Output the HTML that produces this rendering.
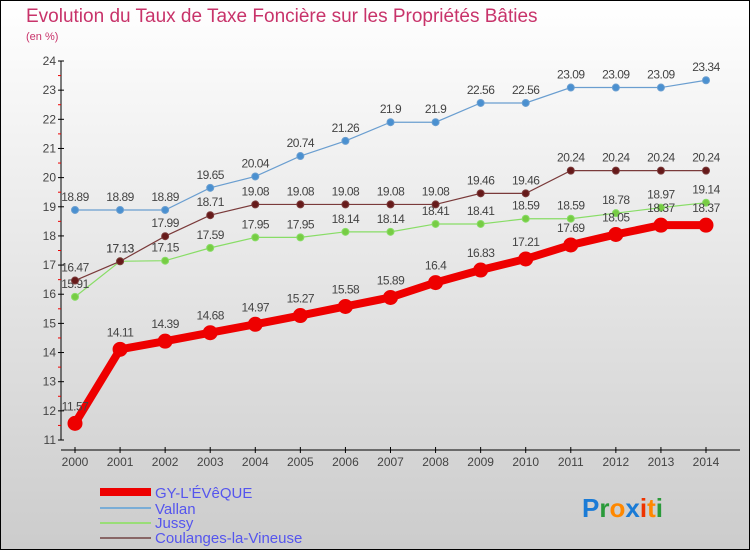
<!DOCTYPE html>
<html><head><meta charset="utf-8"><style>
body{margin:0;width:750px;height:550px;overflow:hidden;font-family:"Liberation Sans",sans-serif;}
</style></head><body>
<svg id="chart" width="750" height="550" xmlns="http://www.w3.org/2000/svg" font-family="Liberation Sans, sans-serif">
<defs><linearGradient id="bg" x1="0" y1="0" x2="0" y2="1"><stop offset="0" stop-color="#ffffff"/><stop offset="1" stop-color="#cccccc"/></linearGradient></defs>
<rect x="0.5" y="0.5" width="749" height="549" fill="url(#bg)" stroke="#000"/>
<text x="26" y="22" font-size="19" fill="#c8336a">Evolution du Taux de Taxe Foncière sur les Propriétés Bâties</text>
<text x="26" y="40" font-size="11" fill="#c8336a">(en %)</text>
<g id="axes"></g><g id="series"></g>
<g font-size="15" fill="#5555ee">
<line x1="100" y1="492" x2="151" y2="492" stroke="#ee0000" stroke-width="8"/><text x="155" y="498" fill="#5555ee">GY-L'ÉVêQUE</text>
<line x1="100" y1="508" x2="151" y2="508" stroke="#7aadd6" stroke-width="2"/><text x="155" y="514" fill="#5555ee">Vallan</text>
<line x1="100" y1="523" x2="151" y2="523" stroke="#99dd77" stroke-width="2"/><text x="155" y="528" fill="#5555ee">Jussy</text>
<line x1="100" y1="538" x2="151" y2="538" stroke="#886666" stroke-width="2"/><text x="155" y="543" fill="#5555ee">Coulanges-la-Vineuse</text>
</g>
<text x="582" y="517" font-size="26" font-weight="bold"><tspan fill="#1a7bd6">P</tspan><tspan fill="#2a9a3a">r</tspan><tspan fill="#ff8800">o</tspan><tspan fill="#1a7bd6">x</tspan><tspan fill="#ee3300">i</tspan><tspan fill="#ff8800">t</tspan><tspan fill="#2a9a3a">i</tspan></text>
</svg>
<script>
const years=[2000,2001,2002,2003,2004,2005,2006,2007,2008,2009,2010,2011,2012,2013,2014];
const gy=[11.57,14.11,14.39,14.68,14.97,15.27,15.58,15.89,16.4,16.83,17.21,17.69,18.05,18.37,18.37];
const vallan=[18.89,18.89,18.89,19.65,20.04,20.74,21.26,21.9,21.9,22.56,22.56,23.09,23.09,23.09,23.34];
const jussy=[15.91,17.13,17.15,17.59,17.95,17.95,18.14,18.14,18.41,18.41,18.59,18.59,18.78,18.97,19.14];
const coulanges=[16.47,17.13,17.99,18.71,19.08,19.08,19.08,19.08,19.08,19.46,19.46,20.24,20.24,20.24,20.24];
const yTicks=[11,12,13,14,15,16,17,18,19,20,21,22,23,24];
const NS="http://www.w3.org/2000/svg";
const X=i=>75+i*(706-75)/14;
const Y=v=>440-(v-11)*(440-61)/13;
function mk(t,a,p){const e=document.createElementNS(NS,t);for(const k in a)e.setAttribute(k,a[k]);p.appendChild(e);return e;}
const ax=document.getElementById('axes');
const yl=mk('line',{x1:61,y1:61,x2:61,y2:440,stroke:'#000'},ax);

const xl=mk('line',{x1:61,y1:450,x2:740,y2:450,stroke:'#000'},ax);

yTicks.forEach(v=>{
 mk('line',{x1:58,y1:Y(v),x2:64,y2:Y(v),stroke:'#000'},ax);
 if(v<24)mk('line',{x1:58,y1:Y(v+0.5),x2:61,y2:Y(v+0.5),stroke:'#e00'},ax);
 const t=mk('text',{x:56,y:Y(v)+4,'font-size':12,fill:'#444','text-anchor':'end'},ax);t.textContent=v;
 
});
years.forEach((y,i)=>{
 mk('line',{x1:X(i),y1:447,x2:X(i),y2:453,stroke:'#000'},ax);
 const t=mk('text',{x:X(i),y:466,'font-size':12,fill:'#444','text-anchor':'middle'},ax);t.textContent=y;
 
});
const sg=document.getElementById('series');
function draw(vals,name,color,fill,w,r,dy){
 const g=mk('g',{},sg);
 
 mk('polyline',{points:vals.map((v,i)=>X(i)+','+Y(v)).join(' '),fill:'none',stroke:color,'stroke-width':w},g);
 vals.forEach((v,i)=>{
  const c=mk('circle',{cx:X(i),cy:Y(v),r:r,fill:fill,stroke:color,'stroke-width':1},g);
  
  const t=mk('text',{x:X(i),y:Y(v)+dy,'font-size':12,fill:'#444','text-anchor':'middle','letter-spacing':'-0.5'},g);t.textContent=v;
  
 });
}
draw(vallan,'vallan','#6a9ed0','#4a90d0',1.2,3.5,-9);
draw(jussy,'jussy','#88dd66','#77cc44',1.2,3.5,-9);
draw(coulanges,'coulanges','#7a3a3a','#661a1a',1.2,3.5,-9);
draw(gy,'gy-leveque','#ee0000','#ee0000',8,7,-13);
</script>
</body></html>
